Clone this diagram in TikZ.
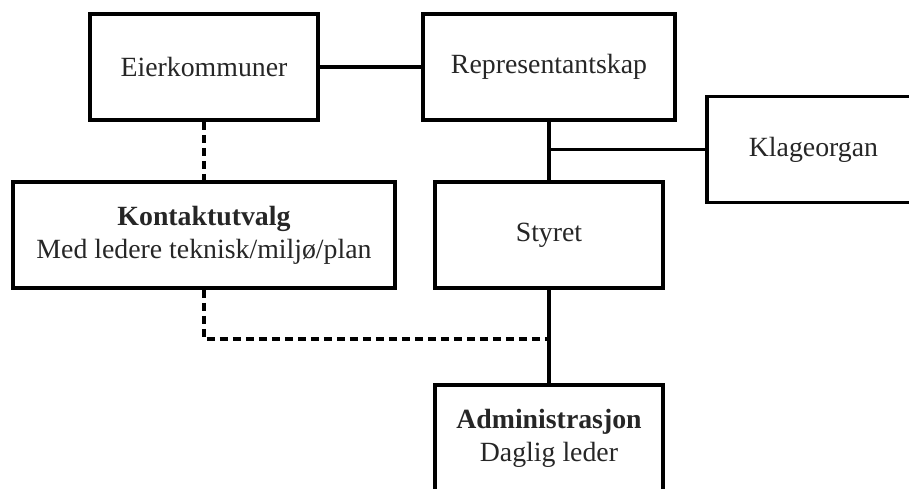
\documentclass[tikz,border=0pt]{standalone}
\usepackage{fontspec}
\setmainfont{Liberation Serif}
\usetikzlibrary{positioning,calc}

\begin{document}
\begin{tikzpicture}[
    x=0.5pt, y=-0.5pt,
    block/.style={draw, rectangle, line width=1.8pt, minimum height=53pt, align=center,
        font=\fontsize{13.9}{16.5}\selectfont, text=black!85},
    link/.style={line width=1.8pt},
    dashlink/.style={line width=1.8pt, dash pattern=on 4pt off 2.5pt}
]
    \useasboundingbox (0,0) rectangle (909,488);

    % Top row
    \node [block, minimum width=114pt] (eier) at (204,67) {Eierkommuner};
    \node [block, minimum width=126pt] (repr) at (549,67) {Representantskap};
    \node [block, minimum width=106.5pt] (klage) at (813.5,149.5) {Klageorgan};

    % Middle row
    \node [block, minimum width=191pt] (kontakt) at (204,235) {\textbf{Kontaktutvalg}\\Med ledere teknisk/milj\o/plan};
    \node [block, minimum width=114pt] (styret) at (549,235) {Styret};

    % Bottom
    \node [block, minimum width=114pt] (admin) at (549,438) {\textbf{Administrasjon}\\Daglig leder};

    % Junctions
    \coordinate (kjunc) at (repr.south |- klage.west);
    \coordinate (ajunc) at (549,339);

    % Solid lines
    \draw [link] (eier) -- (repr);
    \draw [link] (repr) -- (styret);
    \draw [link] (kjunc) -- (klage.west);
    \draw [link] (styret) -- (admin);

    % Dashed lines
    \draw [dashlink] (eier) -- (kontakt);
    \draw [dashlink] (kontakt.south) |- (ajunc);
\end{tikzpicture}
\end{document}
